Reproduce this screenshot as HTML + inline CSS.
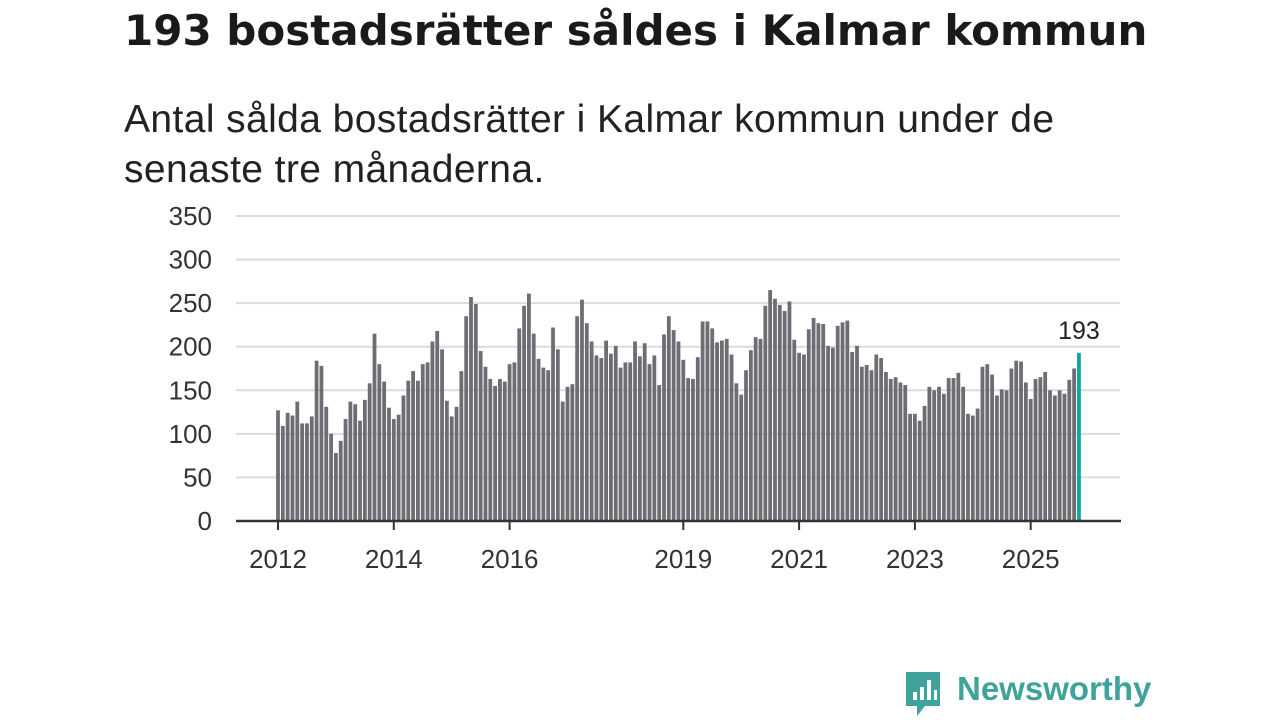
<!DOCTYPE html>
<html><head><meta charset="utf-8">
<style>
body{margin:0;width:1280px;height:720px;background:#fff;overflow:hidden;font-family:"Liberation Sans","DejaVu Sans",sans-serif;}
h1{position:absolute;left:124px;top:6px;margin:0;font-family:"DejaVu Sans",sans-serif;font-size:42px;font-weight:bold;color:#1a1a1a;white-space:nowrap;}
.sub{position:absolute;left:124px;top:95px;margin:0;font-size:39px;letter-spacing:0.4px;line-height:50px;color:#222;width:1100px;}
svg{position:absolute;left:0;top:0;}
</style></head><body>
<h1>193 bostadsrätter såldes i Kalmar kommun</h1>
<p class="sub">Antal sålda bostadsrätter i Kalmar kommun under de<br>senaste tre månaderna.</p>
<svg id="chart" width="1280" height="720"></svg>
<script>
const values=[127,109,124,121,137,112,112,120,184,178,131,100,78,92,117,137,134,115,139,158,215,180,160,130,117,122,144,161,172,161,180,182,206,218,197,138,120,131,172,235,257,249,
195,177,163,155,163,160,180,182,221,247,261,215,186,176,173,222,197,137,154,157,235,254,227,206,190,187,207,192,201,176,182,182,206,189,204,180,190,156,214,235,219,206,
185,164,163,188,229,229,221,205,207,209,191,158,145,173,196,211,209,247,265,255,248,241,252,208,193,191,220,233,227,226,201,199,224,228,230,194,201,177,179,173,191,187,
171,163,165,159,156,123,123,115,132,154,150,154,146,164,164,170,154,123,121,129,177,180,168,144,151,150,175,184,183,159,140,163,165,171,150,144,150,146,162,175,193];
const yTicks=[0,50,100,150,200,250,300,350];
const xTickYears=[2012,2014,2016,2019,2021,2023,2025];
const startYear=2012;
const NS="http://www.w3.org/2000/svg";
const svg=document.getElementById('chart');
const x=m=>278+m*4.825;
const y=v=>521-v*(305/350);
function mk(t,a){const e=document.createElementNS(NS,t);for(const k in a)e.setAttribute(k,a[k]);svg.appendChild(e);return e;}
yTicks.forEach(v=>{
  const g=mk('line',{x1:236,x2:1120,y1:y(v),y2:y(v),stroke:'#dcdcdc','stroke-width':2});
  
  
  const t=mk('text',{x:212,y:y(v)+9,'text-anchor':'end','font-size':26,fill:'#333','font-family':'Liberation Sans, sans-serif'});
  t.textContent=v;
  
  
});
values.forEach((v,i)=>{
  const last=i===values.length-1;
  const r=mk('rect',{x:x(i)-1.9,y:y(v),width:3.8,height:521-y(v),fill:last?'#0ea59b':'#6e6d73'});
  
  
});
const li=values.length-1;
const lab=mk('text',{x:x(li),y:y(values[li])-14,'text-anchor':'middle','font-size':25,fill:'#222','font-family':'Liberation Sans, sans-serif'});
lab.textContent=values[li];


const ax=mk('line',{x1:236,x2:1121,y1:521,y2:521,stroke:'#333','stroke-width':2.5});


xTickYears.forEach(yr=>{
  const px=x((yr-startYear)*12);
  const tk=mk('line',{x1:px,x2:px,y1:521,y2:530,stroke:'#333','stroke-width':2});
  
  
  const t=mk('text',{x:px,y:568,'text-anchor':'middle','font-size':26,fill:'#333','font-family':'Liberation Sans, sans-serif'});
  t.textContent=yr;
  
  
});
</script>
<div style="position:absolute;left:903px;top:670px;height:46px;">
<svg width="40" height="48" style="position:absolute;left:0;top:0">
<path d="M3 2 H37 V36 H22 L14 46 L14 36 H3 Z" fill="#3fa39b"/>
<rect x="10" y="22" width="4" height="8" fill="#fff"/><rect x="17" y="17" width="4" height="13" fill="#fff"/><rect x="24" y="10" width="4" height="20" fill="#fff"/><rect x="31" y="20" width="3" height="10" fill="#fff"/>
</svg>
<span style="position:absolute;left:54px;top:0;font-size:33px;font-weight:bold;color:#3fa39b;white-space:nowrap;">Newsworthy</span>
</div>
</body></html>
